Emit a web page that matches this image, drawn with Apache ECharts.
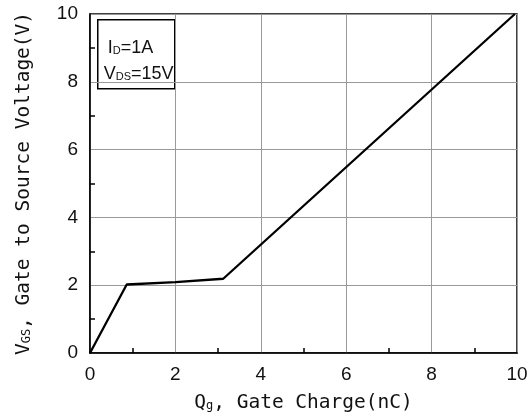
<!DOCTYPE html>
<html><head><meta charset="utf-8">
<script src="https://cdn.jsdelivr.net/npm/echarts@6/dist/echarts.min.js"></script>
<style>html,body{margin:0;padding:0;background:#fff}#c{width:532px;height:420px}</style>
</head><body><div id="c"></div>
<script>
const gateCharge = [0, 0.86, 2.0, 3.12, 9.95];
const vgs = [0, 2.02, 2.09, 2.19, 10];
const xTicks = [0, 2, 4, 6, 8, 10];
const yTicks = [0, 2, 4, 6, 8, 10];

const chart = echarts.init(document.getElementById('c'));
const numFont = '"Liberation Sans Narrow","Liberation Sans",sans-serif';
const monoFont = '"DejaVu Sans Mono",monospace';
chart.setOption({
  animation: false,
  grid: {left: 90, right: 15, top: 14, bottom: 67, show: true, borderColor: '#000', borderWidth: 1.5, backgroundColor: 'transparent'},
  xAxis: {
    type: 'value', min: xTicks[0], max: xTicks[xTicks.length-1], interval: 2,
    name: '{m|Q}{s|g}{m|, Gate Charge(nC)}', nameLocation: 'middle', nameGap: 40,
    nameTextStyle: {rich: {m: {fontFamily: monoFont, fontSize: 19.5, color: '#111'}, s: {fontFamily: monoFont, fontSize: 12, color: '#111', padding:[6,0,0,0]}}},
    axisLine: {lineStyle: {color: '#000', width: 1.5}},
    axisTick: {show: true, inside: true, length: 0},
    minorTick: {show: true, splitNumber: 2, length: 5, lineStyle: {color: '#000', width: 1.5}},
    splitLine: {show: true, lineStyle: {color: '#999', width: 1}},
    axisLabel: {fontFamily: numFont, fontSize: 19, color: '#111', margin: 12}
  },
  yAxis: {
    type: 'value', min: yTicks[0], max: yTicks[yTicks.length-1], interval: 2,
    name: '{m|V}{s|GS}{m|, Gate to Source Voltage(V)}', nameLocation: 'middle', nameGap: 56,
    nameTextStyle: {rich: {m: {fontFamily: monoFont, fontSize: 19.5, color: '#111'}, s: {fontFamily: monoFont, fontSize: 12, color: '#111', padding:[6,0,0,0]}}},
    axisLine: {lineStyle: {color: '#000', width: 1.5}},
    axisTick: {show: true, inside: true, length: 0},
    minorTick: {show: true, splitNumber: 2, length: 5, lineStyle: {color: '#000', width: 1.5}},
    splitLine: {show: true, lineStyle: {color: '#999', width: 1}},
    axisLabel: {fontFamily: numFont, fontSize: 19, color: '#111', margin: 12}
  },
  series: [{
    type: 'line', data: gateCharge.map((x, i) => [x, vgs[i]]),
    showSymbol: false, lineStyle: {color: '#000', width: 2.3}, z: 5
  }],
  graphic: [{
    type: 'group', left: 97, top: 19, z: 10,
    children: [
      {type: 'rect', shape: {x: 0, y: 0, width: 77, height: 69}, style: {fill: '#fff', stroke: '#000', lineWidth: 1.5}},
      {type: 'text', x: 10, y: 28, style: {text: '{m|I}{s|D}{m|=1A}', verticalAlign: 'middle', rich: {m: {fontFamily: numFont, fontSize: 18, fill: '#111'}, s: {fontFamily: numFont, fontSize: 11, fill: '#111', padding:[6,0,0,0]}}}},
      {type: 'text', x: 6, y: 54, style: {text: '{m|V}{s|DS}{m|=15V}', verticalAlign: 'middle', rich: {m: {fontFamily: numFont, fontSize: 18, fill: '#111'}, s: {fontFamily: numFont, fontSize: 11, fill: '#111', padding:[6,0,0,0]}}}}
    ]
  }]
});
</script></body></html>
